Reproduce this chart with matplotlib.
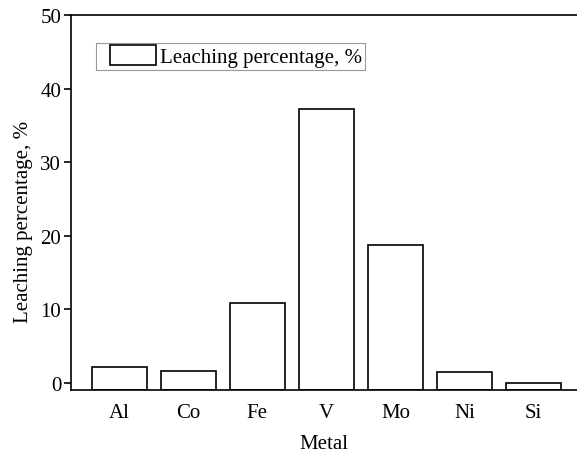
import numpy as np
import matplotlib.pyplot as plt
from matplotlib.patches import Rectangle
from matplotlib.legend_handler import HandlerPatch

plt.rcParams['font.family'] = ['Liberation Serif', 'DejaVu Serif']

metals = ['Al', 'Co', 'Fe', 'V', 'Mo', 'Ni', 'Si']
leaching = [2.2, 1.65, 10.85, 37.2, 18.75, 1.45, 0.05]
y_ticks = [0, 10, 20, 30, 40, 50]

fig = plt.figure(figsize=(5.77, 4.56), dpi=100)
ax = fig.add_axes([0.123, 0.1425, 0.877, 0.8225])

# bars rise from the bottom of the axis, like Origin does
ymin = -0.95
x = np.arange(len(metals))
vals = np.array(leaching)
bars = ax.bar(x, vals - ymin, bottom=ymin, width=0.8, facecolor='white',
              edgecolor='black', linewidth=1.2)

ax.set_xlim(-0.7, 6.63)
ax.set_ylim(ymin, 50)
ax.set_xticks(x)
ax.set_xticklabels(metals)
ax.set_yticks(y_ticks)
ax.tick_params(axis='x', length=0, labelsize=15, pad=9)
ax.tick_params(axis='y', direction='out', length=5, width=1.2, labelsize=15,
               pad=2)
ax.spines['right'].set_visible(False)
for s in ['left', 'bottom', 'top']:
    ax.spines[s].set_linewidth(1.2)

ax.set_xlabel('Metal', fontsize=15, labelpad=9)
ax.set_ylabel('Leaching percentage, %', fontsize=15)
ax.yaxis.set_label_coords(-0.075, 0.45)


# legend box drawn narrower than the handle slot, leaving a gap on the left
def box_handle(legend, orig_handle, xdescent, ydescent, width, height, fontsize):
    w = 33.0
    return Rectangle((-xdescent + width - w, -ydescent), w, height)


leg = ax.legend([bars[0]], ['Leaching percentage, %'],
                loc='upper left', bbox_to_anchor=(0.05, 0.926), fontsize=15,
                frameon=True, fancybox=False, edgecolor='gray',
                handlelength=2.75, handleheight=1.1, borderpad=0.12,
                handletextpad=0.2, borderaxespad=0,
                handler_map={Rectangle: HandlerPatch(patch_func=box_handle)})
leg.get_frame().set_linewidth(0.8)

fig.savefig('out.png', dpi=100)
